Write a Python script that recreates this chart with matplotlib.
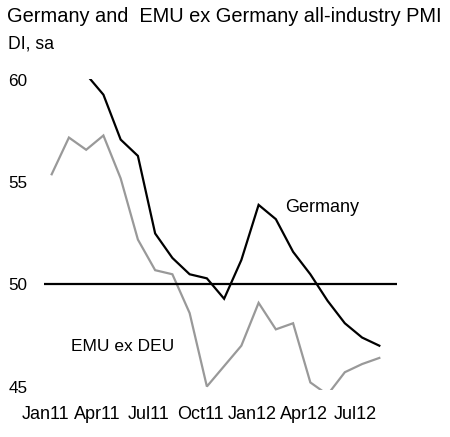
import matplotlib
matplotlib.use("Agg")
import matplotlib.pyplot as plt
import matplotlib.transforms as mtransforms

plt.rcParams['font.family'] = ['Liberation Sans', 'DejaVu Sans']

months = ["Jan11", "Feb11", "Mar11", "Apr11", "May11", "Jun11", "Jul11", "Aug11",
          "Sep11", "Oct11", "Nov11", "Dec11", "Jan12", "Feb12", "Mar12", "Apr12",
          "May12", "Jun12", "Jul12", "Aug12"]
germany = [60.7, 62.6, 60.3, 59.3, 57.1, 56.3, 52.5, 51.3, 50.5, 50.3, 49.3, 51.2,
           53.9, 53.2, 51.6, 50.5, 49.2, 48.1, 47.4, 47.0]
emu_ex_deu = [55.4, 57.2, 56.6, 57.3, 55.2, 52.2, 50.7, 50.5, 48.6, 45.0, 46.0, 47.0,
              49.1, 47.8, 48.1, 45.2, 44.6, 45.7, 46.1, 46.4]
threshold = 50
tick_labels = ["Jan11", "Apr11", "Jul11", "Oct11", "Jan12", "Apr12", "Jul12"]
y_ticks = [45, 50, 55, 60]

fig = plt.figure(figsize=(4.5, 4.37), dpi=100)
ax = fig.add_axes([0.0976, 0.1076, 0.7844, 0.7117])

x = list(range(len(months)))
ax.plot(x, emu_ex_deu, color="#999999", lw=1.6, solid_joinstyle="miter")
ax.plot(x, germany, color="black", lw=1.6, solid_joinstyle="miter")
ax.axhline(threshold, color="black", lw=1.6)

ax.set_xlim(-0.45, 20.02)
ax.set_ylim(44.83, 60.07)

tick_pos = [months.index(m) for m in tick_labels]
ax.set_xticks(tick_pos)
ax.set_xticklabels(tick_labels, fontsize=13)
ax.set_yticks(y_ticks)
ax.set_yticklabels([str(v) for v in y_ticks], fontsize=12.3)
ax.tick_params(axis="both", length=0)
ax.tick_params(axis="y", pad=12)
ax.tick_params(axis="x", pad=11.5)
offset = mtransforms.ScaledTranslation(-6.5 / 100, 0, fig.dpi_scale_trans)
for lab in ax.get_xticklabels():
    lab.set_transform(lab.get_transform() + offset)

for s in ax.spines.values():
    s.set_visible(False)

ax.text(15.68, 53.75, "Germany", fontsize=13, ha="center", va="center")
ax.text(4.14, 46.94, "EMU ex DEU", fontsize=12.5, ha="center", va="center")

fig.text(0.0155, 0.9508, "Germany and  EMU ex Germany all-industry PMI",
         fontsize=14.4, ha="left", va="baseline")
fig.text(0.017, 0.8895, "DI, sa", fontsize=12.7, ha="left", va="baseline")

fig.savefig("out.png", dpi=100)
